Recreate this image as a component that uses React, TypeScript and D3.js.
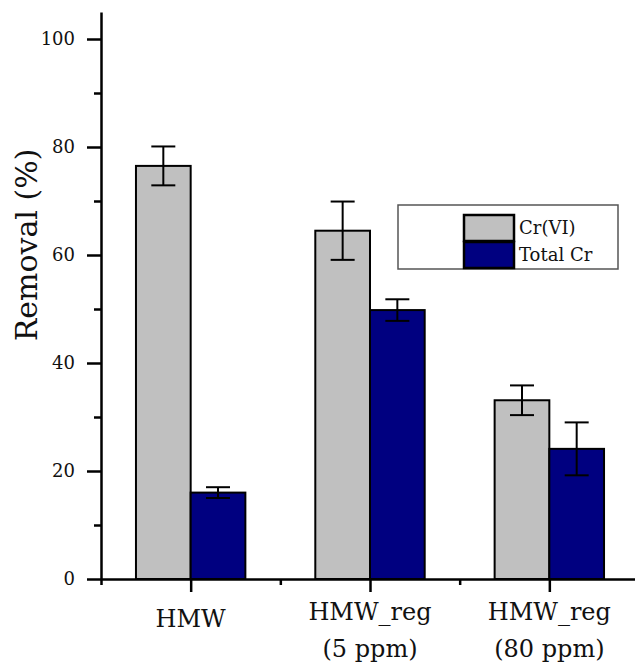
import { useEffect, useRef } from "react";
import * as d3 from "d3";

const categoryLines = [["HMW"], ["HMW_reg", "(5 ppm)"], ["HMW_reg", "(80 ppm)"]];
const crVI = [76.5, 64.5, 33.1];
const crVIErr = [3.6, 5.4, 2.75];
const totalCr = [16.0, 49.8, 24.1];
const totalCrErr = [1.0, 2.0, 4.9];
const yTicks = [0, 20, 40, 60, 80, 100];
const yMinorTicks = [10, 30, 50, 70, 90];
const xMinorTicks = [0.5, 1.5, 2.5, 3.5];
const seriesNames = ["Cr(VI)", "Total Cr"];
const seriesColors = ["#c0c0c0", "#000080"];

const W = 635;
const H = 665;
const FONT = "'DejaVu Serif', serif";

export default function App() {
  const svgRef = useRef<SVGSVGElement | null>(null);

  useEffect(() => {
    if (!svgRef.current) return;
    const svg = d3.select(svgRef.current);
    svg.selectAll("*").remove();

    const x = d3.scaleLinear().domain([0.5, 3.5]).range([101, 639]);
    const y = d3.scaleLinear().domain([0, 105]).range([579, 12]);
    const barW = x(1.305) - x(1);

    // Bars
    const series = [
      { vals: crVI, errs: crVIErr, color: seriesColors[0], off: -1 },
      { vals: totalCr, errs: totalCrErr, color: seriesColors[1], off: 0 },
    ];
    series.forEach((s) => {
      s.vals.forEach((v, i) => {
        const cx = x(i + 1);
        svg.append("rect")
          .attr("x", cx + s.off * barW)
          .attr("y", y(v))
          .attr("width", barW)
          .attr("height", y(0) - y(v))
          .attr("fill", s.color)
          .attr("stroke", "#000")
          .attr("stroke-width", 2);
      });
    });

    // Error bars
    series.forEach((s) => {
      s.vals.forEach((v, i) => {
        const ex = x(i + 1) + s.off * barW + barW / 2;
        const lo = y(v - s.errs[i]);
        const hi = y(v + s.errs[i]);
        const g = svg.append("g").attr("stroke", "#000").attr("stroke-width", 2);
        g.append("line").attr("x1", ex).attr("x2", ex).attr("y1", lo).attr("y2", hi);
        g.append("line").attr("x1", ex - 12).attr("x2", ex + 12).attr("y1", lo).attr("y2", lo);
        g.append("line").attr("x1", ex - 12).attr("x2", ex + 12).attr("y1", hi).attr("y2", hi);
      });
    });

    // Y axis
    const yAxis = svg.append("g")
      .attr("transform", `translate(${x(0.5)},0)`)
      .call(d3.axisLeft(y).tickValues(yTicks).tickSize(14).tickSizeOuter(0).tickPadding(12));
    yAxis.select(".domain").attr("stroke-width", 2.5);
    yAxis.selectAll(".tick line").attr("stroke-width", 2.5);
    yAxis.selectAll("text")
      .style("font-family", FONT).style("font-size", "18px").attr("fill", "#111");

    const yMinor = svg.append("g")
      .attr("transform", `translate(${x(0.5)},0)`)
      .call(d3.axisLeft(y).tickValues(yMinorTicks).tickSize(7).tickFormat(() => ""));
    yMinor.select(".domain").remove();
    yMinor.selectAll(".tick line").attr("stroke-width", 2.5);

    // X axis
    const xAxis = svg.append("g")
      .attr("transform", `translate(0,${y(0)})`)
      .call(d3.axisBottom(x).tickValues([1, 2, 3]).tickSize(13).tickSizeOuter(0).tickFormat(() => ""));
    xAxis.select(".domain").attr("stroke-width", 2.5);
    xAxis.selectAll(".tick line").attr("stroke-width", 2.5);

    const xMinor = svg.append("g")
      .attr("transform", `translate(0,${y(0)})`)
      .call(d3.axisBottom(x).tickValues(xMinorTicks).tickSize(6).tickFormat(() => ""));
    xMinor.select(".domain").remove();
    xMinor.selectAll(".tick line").attr("stroke-width", 2.5);

    // Category labels
    categoryLines.forEach((lines, i) => {
      const t = svg.append("text")
        .attr("x", x(i + 1))
        .attr("y", lines.length === 1 ? 627 : 620)
        .attr("text-anchor", "middle")
        .style("font-family", FONT).style("font-size", "24px").attr("fill", "#111");
      lines.forEach((ln, j) => {
        t.append("tspan").attr("x", x(i + 1)).attr("dy", j === 0 ? 0 : 37).text(ln);
      });
    });

    // Y title
    svg.append("text")
      .attr("transform", "translate(37,245) rotate(-90)")
      .attr("text-anchor", "middle")
      .style("font-family", FONT).style("font-size", "30px").attr("fill", "#111")
      .text("Removal (%)");

    // Legend
    const legend = svg.append("g").attr("transform", "translate(398,205)");
    legend.append("rect")
      .attr("width", 220).attr("height", 64)
      .attr("fill", "#fff").attr("stroke", "#555").attr("stroke-width", 1.5);
    seriesNames.forEach((name, i) => {
      legend.append("rect")
        .attr("x", 66).attr("y", 10 + i * 27)
        .attr("width", 50).attr("height", 26)
        .attr("fill", seriesColors[i]).attr("stroke", "#000").attr("stroke-width", 2.5);
      legend.append("text")
        .attr("x", 121).attr("y", 23 + i * 27).attr("dy", "0.35em")
        .style("font-family", FONT).style("font-size", "18px").attr("fill", "#111")
        .text(name);
    });
  }, []);

  return (
    <svg
      ref={svgRef}
      width={W}
      height={H}
      style={{ position: "absolute", left: 0, top: 0, background: "#fff" }}
    />
  );
}
